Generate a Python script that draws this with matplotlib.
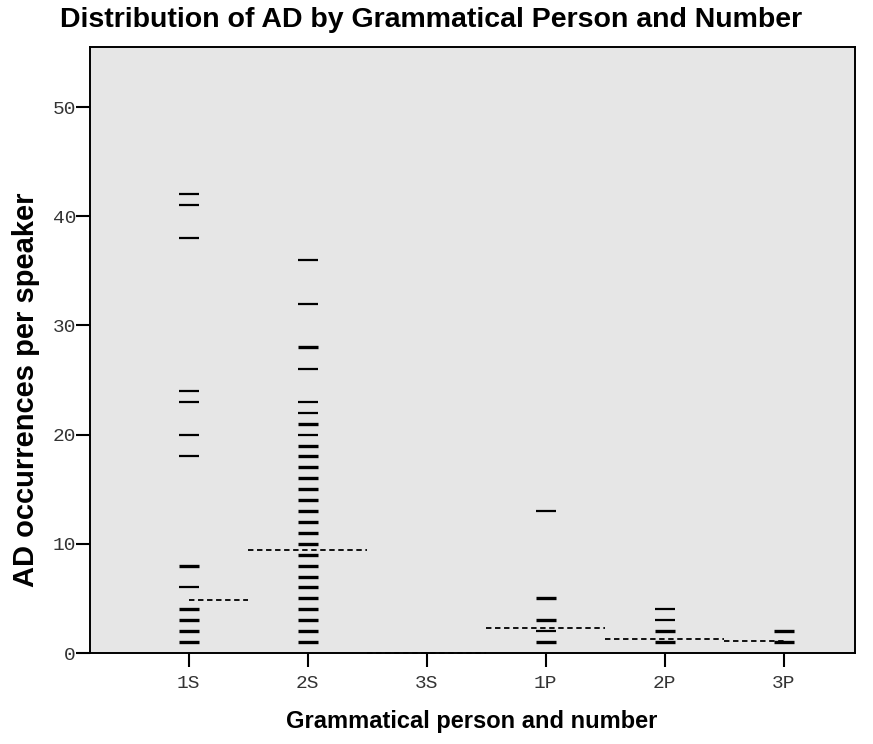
import matplotlib
matplotlib.use("Agg")
import matplotlib.pyplot as plt

# data
categories = ["1S", "2S", "3S", "1P", "2P", "3P"]

# values per category (AD per speaker), with number of speakers at that value
values_1s = [42, 41, 38, 24, 23, 20, 18, 8, 6, 4, 3, 2, 1]
counts_1s = [1, 1, 1, 1, 1, 1, 1, 2, 1, 2, 2, 2, 3]
values_2s = [36, 32, 28, 26, 23, 22, 21, 20, 19, 18, 17, 16, 15, 14, 13,
             12, 11, 10, 9, 8, 7, 6, 5, 4, 3, 2, 1]
counts_2s = [1, 1, 2, 1, 1, 1, 2, 1, 2, 2, 2, 2, 2, 2, 2,
             2, 2, 2, 3, 3, 3, 3, 3, 3, 3, 3, 3]
values_3s = []
counts_3s = []
values_1p = [13, 5, 3, 2, 1]
counts_1p = [1, 2, 2, 1, 3]
values_2p = [4, 3, 2, 1]
counts_2p = [1, 1, 2, 3]
values_3p = [2, 1]
counts_3p = [2, 3]

means = [4.85, 9.45, 0, 2.25, 1.3, 1.1]

all_values = [values_1s, values_2s, values_3s, values_1p, values_2p, values_3p]
all_counts = [counts_1s, counts_2s, counts_3s, counts_1p, counts_2p, counts_3p]

fig = plt.figure(figsize=(8.73, 7.44), dpi=100)
ax = fig.add_axes([90/873, 1-653/744, 765/873, 606/744])
ax.set_facecolor("#e6e6e6")

n = len(categories)
for i, (vals, cnts) in enumerate(zip(all_values, all_counts)):
    for v, c in zip(vals, cnts):
        lw = 1.6 if c == 1 else 2.4
        ax.hlines(v, i - 0.085, i + 0.085, colors="black", linewidth=lw, zorder=3)

# mean lines, one flat dashed piece per category
for i, m in enumerate(means):
    x0 = max(i - 0.5, 0)
    x1 = min(i + 0.5, n - 1)
    ax.hlines(m, x0, x1, colors="black", linewidth=1.3,
              linestyles=(0, (3, 2)), zorder=4, clip_on=False)

ax.set_xlim(-0.83, n - 1 + 0.6)
ax.set_ylim(0, 55.5)
ax.set_xticks(range(n))
ax.set_xticklabels(categories)
ax.set_yticks([0, 10, 20, 30, 40, 50])

for s in ax.spines.values():
    s.set_linewidth(1.4)
ax.tick_params(axis="both", direction="out", length=10, width=1.5,
               labelsize=14, labelcolor="#333333")
ax.tick_params(axis="y", pad=0)
ax.tick_params(axis="x", pad=6)
for lab in ax.get_xticklabels() + ax.get_yticklabels():
    lab.set_family("Liberation Mono")

fig.text(0.494, 1 - 27/744, "Distribution of AD by Grammatical Person and Number",
         ha="center", va="baseline", fontsize=20.5, fontweight="bold",
         family="Liberation Sans")
fig.text(472/873, 1 - 728/744, "Grammatical person and number",
         ha="center", va="baseline", fontsize=17, fontweight="bold",
         family="Liberation Sans")
fig.text(26/873, 1 - 390/744, "AD occurrences per speaker", rotation=90,
         ha="center", va="center", fontsize=21, fontweight="bold",
         family="Liberation Sans")

fig.savefig("out.png", dpi=100)
